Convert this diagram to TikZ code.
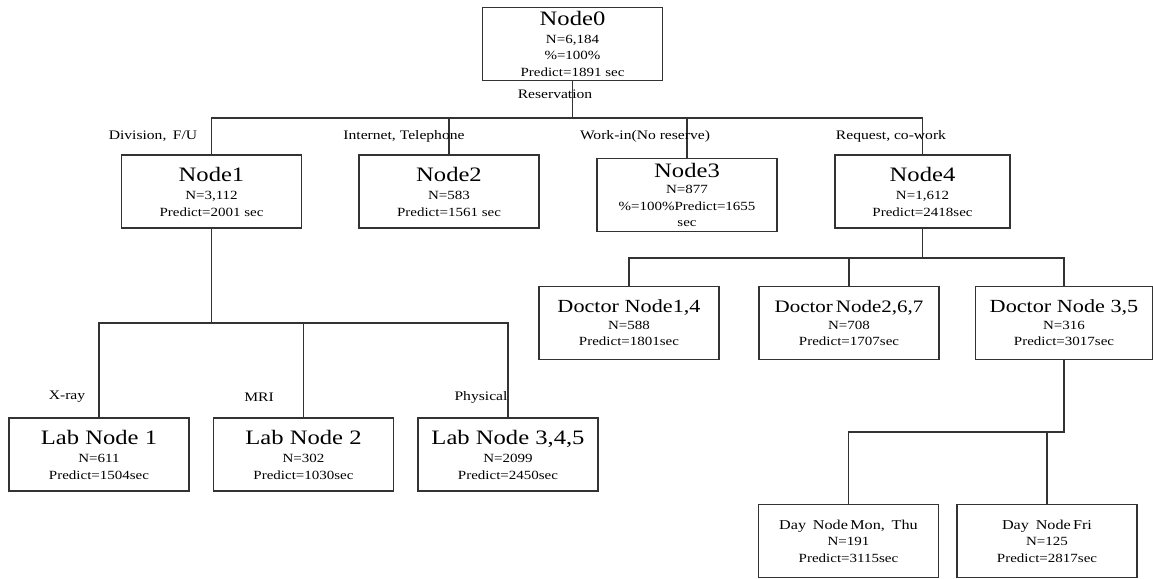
\documentclass[tikz,border=0pt]{standalone}
\usepackage{fontspec}
\setmainfont{Liberation Serif}[FakeStretch=1.2]
\newcommand{\boxtitle}[2]{{\fontsize{#1}{#1}\selectfont #2}}
\tikzset{
  box/.style={draw=black!80, line width=1.3pt, minimum width=180pt, minimum height=73pt,
    align=center, inner sep=1pt, font=\fontsize{12.5}{16.5}\selectfont},
  link/.style={black!80, line width=1.3pt},
  cond/.style={inner sep=0pt, font=\fontsize{13}{15}\selectfont}
}
\begin{document}
\begin{tikzpicture}[x=1pt,y=-1pt]
            \useasboundingbox (0,0) rectangle (1153,578);
            \node[box] (n0) at (572.5,44) {\boxtitle{20.5}{Node0}\\[1pt] N=6,184\\ \%=100\%\\ Predict=1891 sec};
            \node[box] (n1) at (211.5,191.5) {\boxtitle{20.5}{Node1}\\[2pt] N=3,112\\ Predict=2001 sec};
            \node[box] (n2) at (449,191.5) {\boxtitle{20.5}{Node2}\\[2pt] N=583\\ Predict=1561 sec};
            \node[box] (n3) at (687,195) {\boxtitle{20.5}{Node3}\\ N=877\\ \%=100\%Predict=1655\\ sec};
            \node[box,minimum width=175pt] (n4) at (922.5,191.5) {\boxtitle{20.5}{Node4}\\[2pt] N=1,612\\ Predict=2418sec};
            \node[box] (doc1) at (629,323) {\boxtitle{18.5}{Doctor Node1,4}\\ N=588\\ Predict=1801sec};
            \node[box] (doc2) at (849,323) {\boxtitle{17.5}{Doctor\,Node2,6,7}\\ N=708\\ Predict=1707sec};
            \node[box,minimum width=177pt] (doc3) at (1064,323) {\boxtitle{18.5}{Doctor Node 3,5}\\ N=316\\ Predict=3017sec};
            \node[box] (lab1) at (99,454.5) {\boxtitle{20.5}{Lab Node 1}\\[2pt] N=611\\ Predict=1504sec};
            \node[box] (lab2) at (303.5,454.5) {\boxtitle{20.5}{Lab Node 2}\\[2pt] N=302\\ Predict=1030sec};
            \node[box] (lab3) at (508,454.5) {\boxtitle{20.5}{Lab Node 3,4,5}\\[2pt] N=2099\\ Predict=2450sec};
            \node[box] (day1) at (848.5,541) {\boxtitle{13.5}{Day\enspace Node\,Mon,\enspace Thu}\\ N=191\\ Predict=3115sec};
            \node[box] (day2) at (1047,541) {\boxtitle{13.5}{Day\enspace Node\,Fri}\\ N=125\\ Predict=2817sec};
            \coordinate (b0) at (572.5,118);
            \coordinate (b1) at (211.5,323);
            \coordinate (b4) at (922.5,258);
            \coordinate (b7) at (1064,432);
            \draw[link] (n0.south) -- (b0);
            \draw[link] (n1.north) |- (b0) -| (n4.north);
            \draw[link] (n2.north) -- (n2.north |- b0);
            \draw[link] (n3.north) -- (n3.north |- b0);
            \draw[link] (n1.south) -- (b1);
            \draw[link] (lab1.north) |- (b1) -| (lab3.north);
            \draw[link] (lab2.north) -- (lab2.north |- b1);
            \draw[link] (n4.south) -- (b4);
            \draw[link] (doc1.north) |- (b4) -| (doc3.north);
            \draw[link] (doc2.north) -- (doc2.north |- b4);
            \draw[link] (doc3.south) -- (b7) -| (day1.north);
            \draw[link] (day2.north) -- (day2.north |- b7);
            \node[cond] (reserv) at (555,94) {Reservation};
            \node[cond] (c1) at (153,136) {Division,\enspace F/U};
            \node[cond] (c2) at (404,136) {Internet, Telephone};
            \node[cond] (c3) at (645,136) {Work-in(No reserve)};
            \node[cond] (c4) at (891,136) {Request, co-work};
            \node[cond] (c5) at (67,397) {X-ray};
            \node[cond] (c6) at (259,397) {MRI};
            \node[cond] (c7) at (481,397) {Physical};
        \end{tikzpicture}
\end{document}
